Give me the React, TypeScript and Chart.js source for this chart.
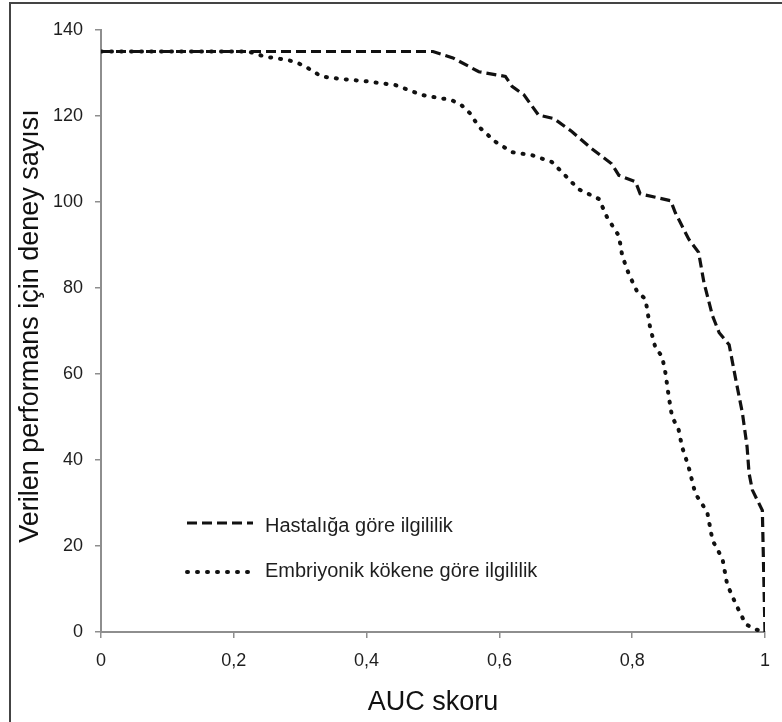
import React, { useEffect, useRef } from 'react';
import { Chart, registerables } from 'chart.js';

Chart.register(...registerables);

// ---- Data ----
const seriesLabels = ['Hastalığa göre ilgililik', 'Embriyonik kökene göre ilgililik'];

const hastalikAuc = [0, 0.1, 0.2, 0.3, 0.4, 0.5, 0.53, 0.569, 0.609, 0.619, 0.637, 0.659, 0.682, 0.709, 0.739, 0.769, 0.78, 0.805, 0.812, 0.858, 0.865, 0.885, 0.9, 0.908, 0.921, 0.931, 0.946, 0.956, 0.966, 0.973, 0.976, 0.981, 0.996, 1.0];
const hastalikCount = [135, 135, 135, 135, 135, 135, 133.5, 130.3, 129.2, 126.9, 124.9, 120.2, 119.4, 116.4, 112.4, 108.9, 106.2, 104.7, 101.9, 100.3, 97.5, 91.4, 88.3, 81.3, 73.5, 69.6, 66.8, 58.7, 50.9, 43.1, 36.9, 33, 28.3, 0];

const embriyoAuc = [0, 0.1, 0.222, 0.247, 0.282, 0.297, 0.312, 0.332, 0.362, 0.398, 0.443, 0.483, 0.528, 0.543, 0.556, 0.569, 0.594, 0.619, 0.649, 0.679, 0.699, 0.719, 0.75, 0.762, 0.78, 0.785, 0.795, 0.807, 0.82, 0.827, 0.835, 0.845, 0.85, 0.855, 0.86, 0.87, 0.875, 0.885, 0.895, 0.913, 0.921, 0.936, 0.943, 0.956, 0.971, 0.986, 1.0];
const embriyoCount = [135, 135, 135, 133.8, 133, 132.3, 131.1, 129.2, 128.6, 128.1, 127.2, 124.9, 123.7, 122.5, 120.6, 117.5, 114, 111.6, 110.9, 109.3, 106.2, 103, 100.7, 96.5, 92.1, 87.5, 83.2, 79.3, 77.4, 70.8, 66.1, 64.1, 60.3, 54.8, 50.1, 47, 43.1, 38.4, 32.2, 27.9, 21.3, 17, 11.1, 6.5, 1.8, 0.6, 0];

const xTickLabels = ['0', '0,2', '0,4', '0,6', '0,8', '1'];
const xTitle = 'AUC skoru';
const yTitle = 'Verilen performans için deney sayısı';

const FONT = '"Liberation Sans", Arial, sans-serif';
const LINE_COLOR = '#111111';
const AXIS_COLOR = '#8e8e8e';
const TEXT_COLOR = '#1e1e1e';

const toPoints = (xs: number[], ys: number[]) => xs.map((x, i) => ({ x, y: ys[i] }));

const decorPlugin = {
  id: 'decor',
  afterDraw(chart: any) {
    const { ctx, chartArea } = chart;
    ctx.save();
    // outer frame (left and top edges visible)
    ctx.strokeStyle = '#444444';
    ctx.lineWidth = 2;
    ctx.beginPath();
    ctx.moveTo(10, 722);
    ctx.lineTo(10, 3);
    ctx.lineTo(782, 3);
    ctx.stroke();

    // axis titles
    ctx.fillStyle = '#111111';
    ctx.font = `27px ${FONT}`;
    ctx.textAlign = 'center';
    ctx.textBaseline = 'alphabetic';
    ctx.fillText(xTitle, (chartArea.left + chartArea.right) / 2, 710);
    ctx.save();
    ctx.translate(38, (chartArea.top + chartArea.bottom) / 2 - 5);
    ctx.rotate(-Math.PI / 2);
    ctx.fillText(yTitle, 0, 0);
    ctx.restore();

    // legend inside plot area
    const lineYs = [523, 572];
    const textYs = [532, 577];
    chart.data.datasets.forEach((ds: any, i: number) => {
      ctx.save();
      ctx.strokeStyle = ds.borderColor;
      ctx.lineWidth = ds.borderWidth;
      ctx.lineCap = ds.borderCapStyle || 'butt';
      ctx.setLineDash(ds.borderDash || []);
      ctx.beginPath();
      ctx.moveTo(187, lineYs[i]);
      ctx.lineTo(253, lineYs[i]);
      ctx.stroke();
      ctx.restore();
      ctx.fillStyle = TEXT_COLOR;
      ctx.font = `20px ${FONT}`;
      ctx.textAlign = 'left';
      ctx.textBaseline = 'alphabetic';
      ctx.fillText(ds.label, 265, textYs[i]);
    });
    ctx.restore();
  },
};

export default function App() {
  const canvasRef = useRef<HTMLCanvasElement | null>(null);

  useEffect(() => {
    document.body.style.margin = '0';
    const canvas = canvasRef.current;
    if (!canvas) return;
    const chart = new Chart(canvas, {
      type: 'line',
      data: {
        datasets: [
          {
            label: seriesLabels[0],
            data: toPoints(hastalikAuc, hastalikCount),
            borderColor: LINE_COLOR,
            borderWidth: 3.2,
            borderDash: [10, 5],
            borderCapStyle: 'butt',
            pointRadius: 0,
            tension: 0,
            fill: false,
          },
          {
            label: seriesLabels[1],
            data: toPoints(embriyoAuc, embriyoCount),
            borderColor: LINE_COLOR,
            borderWidth: 4,
            borderDash: [1, 9],
            borderCapStyle: 'round',
            pointRadius: 0,
            tension: 0,
            fill: false,
          },
        ],
      },
      options: {
        animation: false,
        responsive: false,
        maintainAspectRatio: false,
        devicePixelRatio: 1,
        layout: { padding: { left: 0, top: 30, right: 16, bottom: 0 } },
        plugins: {
          legend: { display: false },
          tooltip: { enabled: false },
          title: { display: false },
        },
        scales: {
          x: {
            type: 'linear',
            min: 0,
            max: 1,
            afterFit: (scale: any) => {
              scale.height = 90;
            },
            grid: {
              display: true,
              drawOnChartArea: false,
              drawTicks: true,
              tickLength: 6,
              color: AXIS_COLOR,
              lineWidth: 1.5,
            },
            border: { display: true, color: AXIS_COLOR, width: 2 },
            ticks: {
              stepSize: 0.2,
              padding: 12,
              color: TEXT_COLOR,
              font: { family: FONT, size: 18 },
              maxRotation: 0,
              callback: (_v: any, index: number) => xTickLabels[index],
            },
          },
          y: {
            type: 'linear',
            min: 0,
            max: 140,
            afterFit: (scale: any) => {
              scale.width = 101;
            },
            grid: {
              display: true,
              drawOnChartArea: false,
              drawTicks: true,
              tickLength: 6,
              color: AXIS_COLOR,
              lineWidth: 1.5,
            },
            border: { display: true, color: AXIS_COLOR, width: 2 },
            ticks: {
              stepSize: 20,
              padding: 12,
              color: TEXT_COLOR,
              font: { family: FONT, size: 18 },
            },
          },
        },
      },
      plugins: [decorPlugin],
    } as any);
    return () => chart.destroy();
  }, []);

  return (
    <div style={{ width: 782, height: 722, background: '#fff' }}>
      <canvas ref={canvasRef} width={782} height={722} style={{ width: 782, height: 722, display: 'block' }} />
    </div>
  );
}
